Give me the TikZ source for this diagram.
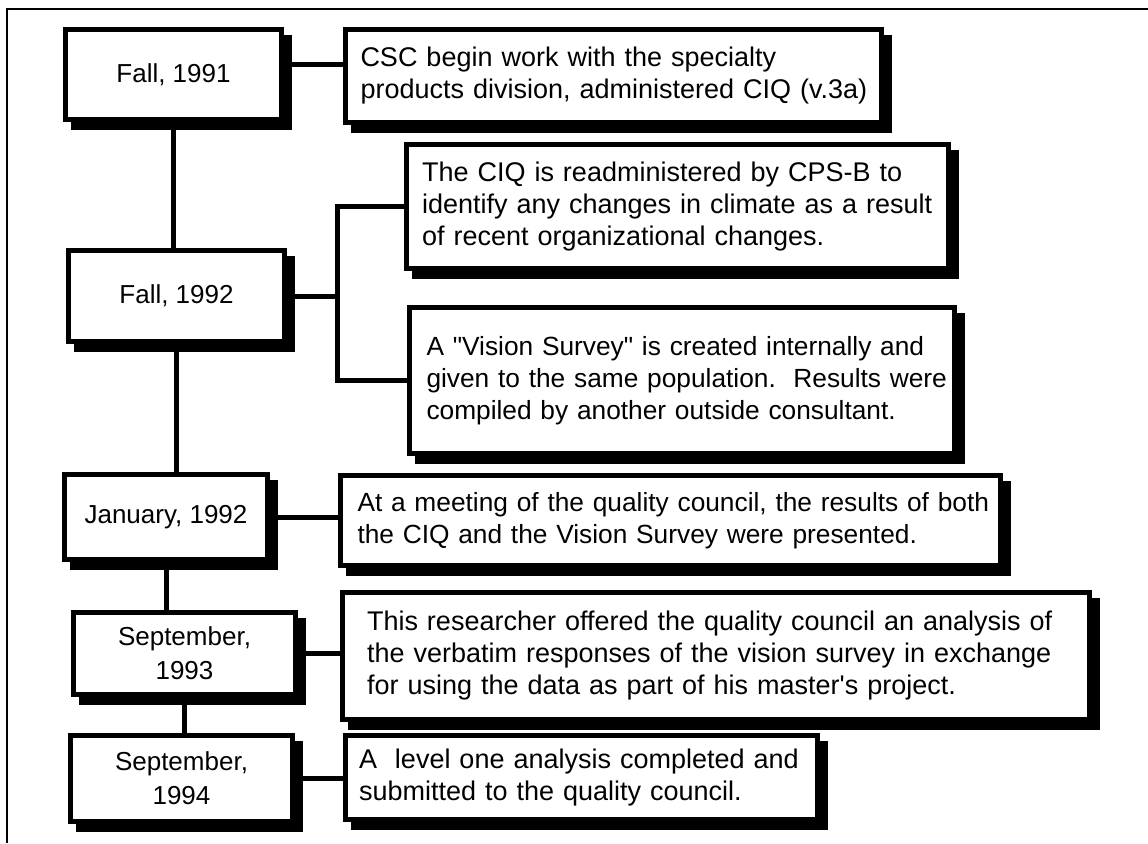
\documentclass[tikz,border=0pt]{standalone}
\usepackage{fontspec}
\setmainfont{Liberation Sans}
\usepackage{tikz}
\definecolor{ink}{HTML}{000000}
\definecolor{paper}{HTML}{FFFFFF}
\tikzset{
  timeline diagram/.style={
    x=1pt,
    y=-1pt,
    line join=miter
  },
  eventbox/.style={
    draw=ink,
    fill=paper,
    line width=5pt,
    inner sep=0pt,
    anchor=north west,
    preaction={draw=ink, fill=ink, line width=5pt, transform canvas={shift={(8pt,-8pt)}}}
  },
  datebox/.style={
    eventbox,
    align=center,
    font=\fontsize{26}{34}\selectfont
  },
  notebox/.style={
    eventbox,
    align=left,
    font=\fontsize{27}{32}\selectfont\frenchspacing
  },
  smallnote/.style={
    notebox,
    font=\fontsize{26.3}{32}\selectfont\frenchspacing
  },
  linkline/.style={
    draw=ink,
    line width=5pt
  },
  frameline/.style={
    draw=ink,
    line width=2pt
  }
}
\newcommand{\insettext}[2]{\leftskip=#1\rightskip=-24pt plus 1fil\relax #2\par}

\begin{document}
\begin{tikzpicture}[timeline diagram]
\fill[paper] (0,0) rectangle (1148,843);
\useasboundingbox (0,0) rectangle (1148,843);
\draw[frameline] (7,843) -- (7,9) -- (1148,9);

\node[datebox, minimum width=216pt, minimum height=90pt] (fall91) at (63,27) {Fall, 1991};
\node[datebox, minimum width=216pt, minimum height=91pt] (fall92) at (66,248) {Fall, 1992};
\node[datebox, minimum width=203pt, minimum height=85pt] (jan92) at (62,472) {January, 1992};
\node[datebox, minimum width=222pt, minimum height=82pt] (sep93) at (71,610) {September,\\1993};
\node[datebox, minimum width=222pt, minimum height=86pt] (sep94) at (68,733) {September,\\1994};

\node[notebox, text width=536pt, minimum height=93pt] (csc91) at (343,27) {\insettext{15pt}{CSC begin work with the specialty\\products division, administered CIQ (v.3a)}};
\node[notebox, text width=542pt, minimum height=124pt] (readmin) at (404,142) {\insettext{15.5pt}{The CIQ is readministered by CPS-B to\\identify any changes in climate as a result\\of recent organizational changes.}};
\node[smallnote, text width=545pt, minimum height=146pt] (vision) at (407,305) {\insettext{17pt}{A \textquotedbl Vision Survey\textquotedbl{} is created internally and\\given to the same population.~ Results were\\compiled by another outside consultant.}};
\node[smallnote, text width=660pt, minimum height=90pt] (meeting) at (338,473) {\insettext{17pt}{At a meeting of the quality council, the results of both\\the CIQ and the Vision Survey were presented.}};
\node[notebox, text width=747pt, minimum height=127pt] (offer) at (340,590) {\insettext{24.5pt}{This researcher offered the quality council an analysis of\\the verbatim responses of the vision survey in exchange\\for using the data as part of his master\textquotesingle s project.}};
\node[notebox, text width=472pt, minimum height=84pt] (level) at (343,733) {\insettext{13.5pt}{A~ level one analysis completed and\\submitted to the quality council.}};

\coordinate (fork) at (337.5,296);

\draw[linkline] (fall91.south) -- (fall91.south |- fall92.north);
\draw[linkline] (fall92.south) -- (fall92.south |- jan92.north);
\draw[linkline] (jan92.south) -- (jan92.south |- sep93.north);
\draw[linkline] (sep93.south) -- (sep93.south |- sep94.north);
\draw[linkline] ([yshift=10pt]fall91.east) -- ([yshift=10pt]fall91.east -| csc91.west);
\draw[linkline] (fall92.east) -- (fork);
\draw[linkline] (readmin.west) -| (fork) |- (vision.west);
\draw[linkline] (jan92.east) -- (jan92.east -| meeting.west);
\draw[linkline] (sep93.east) -- (sep93.east -| offer.west);
\draw[linkline] (sep94.east) -- (sep94.east -| level.west);
\end{tikzpicture}
\end{document}
